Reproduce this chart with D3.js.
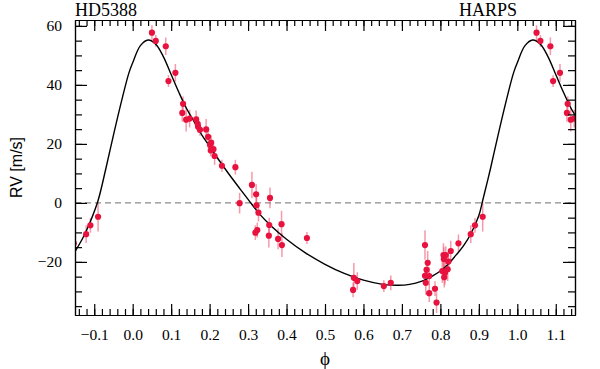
<!DOCTYPE html>
<html>
<head>
<meta charset="utf-8">
<script src="https://cdn.jsdelivr.net/npm/d3@7"></script>
<style>
  body { margin: 0; background: #fff; }
</style>
</head>
<body>
<div id="chart"></div>
<script>
// RV data (phase folded)
const phase = [0.050, 0.060, 0.086, 0.093, 0.111, 0.131, 0.129, 0.139, 0.148, 0.165,
  0.169, 0.170, 0.175, 0.191, 0.196, 0.204, 0.201, 0.210, 0.203, 0.213,
  0.232, 0.267, 0.310, 0.321, 0.278, 0.357, 0.322, 0.327, 0.355, 0.387,
  0.324, 0.319, 0.354, 0.378, 0.388, 0.453, 0.575, 0.584, 0.573, 0.653,
  0.671, 0.760, 0.767, 0.764, 0.760, 0.771, 0.762, 0.771, 0.786, 0.790,
  0.808, 0.814, 0.809, 0.821, 0.827, 0.805, 0.812, 0.819, 0.810, 0.847,
  0.879, 0.890, 0.910];
const rv = [57.7, 54.9, 53.1, 41.3, 44.1, 33.6, 30.5, 28.2, 28.6, 28.3,
  26.8, 25.8, 24.8, 24.9, 22.4, 20.4, 19.6, 18.2, 17.8, 15.9,
  12.6, 12.1, 6.1, 2.9, -0.1, 1.7, -0.8, -3.3, -7.5, -7.2,
  -9.2, -10.1, -11.1, -12.2, -14.3, -11.9, -25.4, -26.5, -29.5, -28.2,
  -27.1, -14.3, -20.3, -22.7, -24.7, -24.8, -27.1, -30.6, -29.1, -33.8,
  -17.7, -17.7, -19.0, -19.9, -16.3, -23.1, -23.7, -22.5, -25.2, -13.7,
  -10.6, -7.6, -4.7];
const rvErr = [2.5, 2, 3, 2, 3, 2.5, 3, 4, 3, 3,
  2.5, 2, 2, 3.5, 2.5, 2.5, 2, 2, 2, 3,
  2, 2.5, 4.5, 3.5, 3.5, 3.5, 2.5, 3, 2.5, 4.5,
  2.5, 2.5, 4, 3.5, 4, 2, 5, 3, 2.5, 2,
  2.5, 5, 4, 3, 3, 3, 4, 3, 2.5, 3.5,
  4, 3, 4, 3, 3.5, 4, 4, 4, 3.5, 3,
  3, 2.5, 5];

// Keplerian model curve
const modelPhase = [-0.15, -0.13, -0.11, -0.09, -0.07, -0.05, -0.03, -0.01, 0.00, 0.02,
  0.04, 0.06, 0.08, 0.10, 0.12, 0.14, 0.16, 0.18, 0.20, 0.22,
  0.25, 0.28, 0.30, 0.33, 0.36, 0.40, 0.45, 0.50, 0.55, 0.60,
  0.65, 0.69, 0.72, 0.75, 0.78, 0.80, 0.82, 0.84, 0.86, 0.88,
  0.90, 0.91, 0.93, 0.95, 0.97, 0.99, 1.00, 1.02, 1.04, 1.06,
  1.08, 1.10, 1.12, 1.14, 1.15];
const modelRv = [-16.5, -12, -6.3, 0.8, 11.5, 23, 34, 44, 47.5, 53.3,
  55.2, 53.8, 49.5, 43.5, 37.5, 32, 27.5, 23, 19.2, 15.3,
  9.8, 4.6, 1.2, -3.8, -7.8, -12.3, -17, -20.8, -23.9, -26.2,
  -27.6, -27.9, -27.6, -26.6, -24.7, -23.1, -20.8, -17.8, -14.6, -10.3,
  -4.3, 0.8, 11.5, 23, 34, 44, 47.5, 53.3, 55.2, 53.8,
  49.5, 43.5, 37.5, 32, 29.8];

const xMajor = [-0.1, 0.0, 0.1, 0.2, 0.3, 0.4, 0.5, 0.6, 0.7, 0.8, 0.9, 1.0, 1.1];
const yMajor = [-20, 0, 20, 40, 60];

const serif = "'Liberation Serif', 'Times New Roman', serif";

const W = 600, H = 369;
const margin = {top: 20, right: 25, bottom: 54, left: 75},
    width = W - margin.left - margin.right,
    height = H - margin.top - margin.bottom;

const svg = d3.select("#chart").append("svg")
    .attr("width", W).attr("height", H);
const g = svg.append("g")
    .attr("transform", `translate(${margin.left},${margin.top})`);

const x = d3.scaleLinear().domain([-0.15, 1.15]).range([0, width]);
const y = d3.scaleLinear().domain([-38, 62]).range([height, 0]);

// minor ticks
const xMinor = d3.range(-7, 58).map(i => +(i * 0.02).toFixed(2));
const yMinor = d3.range(-7, 13).map(i => i * 5);

g.append("defs").append("clipPath").attr("id", "clip")
  .append("rect").attr("width", width).attr("height", height);

// zero line
g.append("line")
    .attr("x1", 0).attr("x2", width)
    .attr("y1", y(0)).attr("y2", y(0))
    .attr("stroke", "#6e6e6e").attr("stroke-width", 1)
    .attr("stroke-dasharray", "6,4");

const plot = g.append("g").attr("clip-path", "url(#clip)");

// points, wrapped one period each side
const pts = [];
phase.forEach((p, i) => {
  [-1, 0, 1].forEach(k => {
    const ph = p + k;
    if (ph > -0.17 && ph < 1.17) pts.push({ph: ph, v: rv[i], e: rvErr[i]});
  });
});

plot.selectAll("line.err").data(pts).enter().append("line")
    .attr("class", "err")
    .attr("x1", d => x(d.ph)).attr("x2", d => x(d.ph))
    .attr("y1", d => y(d.v - d.e)).attr("y2", d => y(d.v + d.e))
    .attr("stroke", "rgba(238,70,100,0.55)").attr("stroke-width", 1.5);

const model = modelPhase.map((p, i) => [p, modelRv[i]]);
plot.append("path").datum(model)
    .attr("fill", "none").attr("stroke", "#000").attr("stroke-width", 1.4)
    .attr("d", d3.line().x(d => x(d[0])).y(d => y(d[1])).curve(d3.curveCatmullRom.alpha(0.5)));

plot.selectAll("circle.pt").data(pts).enter().append("circle")
    .attr("class", "pt")
    .attr("cx", d => x(d.ph)).attr("cy", d => y(d.v))
    .attr("r", 3.1)
    .attr("fill", "#e8123f");

// axes, ticks pointing inwards
function styleAxis(sel) {
  sel.attr("font-family", serif).attr("font-size", 15.5);
  sel.selectAll("path, line").attr("stroke", "#000").attr("stroke-width", 1.2);
  sel.selectAll("text").attr("fill", "#000")
     .attr("font-family", serif).attr("font-size", 15.5);
}

g.append("g").attr("transform", `translate(0,${height})`)
  .call(d3.axisBottom(x).tickValues(xMinor).tickSize(-6).tickSizeOuter(0).tickFormat(""))
  .call(styleAxis);
g.append("g").attr("transform", `translate(0,${height})`)
  .call(d3.axisBottom(x).tickValues(xMajor).tickSize(-11).tickSizeOuter(0).tickPadding(14).tickFormat(d3.format(".1f")))
  .call(styleAxis);
g.append("g")
  .call(d3.axisTop(x).tickValues(xMinor).tickSize(-6).tickSizeOuter(0).tickFormat(""))
  .call(styleAxis);
g.append("g")
  .call(d3.axisTop(x).tickValues(xMajor).tickSize(-11).tickSizeOuter(0).tickFormat(""))
  .call(styleAxis);

g.append("g")
  .call(d3.axisLeft(y).tickValues(yMinor).tickSize(-7).tickSizeOuter(0).tickFormat(""))
  .call(styleAxis);
g.append("g")
  .call(d3.axisLeft(y).tickValues(yMajor).tickSize(-12).tickSizeOuter(0).tickPadding(13).tickFormat(d3.format("d")))
  .call(styleAxis);
g.append("g").attr("transform", `translate(${width},0)`)
  .call(d3.axisRight(y).tickValues(yMinor).tickSize(-7).tickSizeOuter(0).tickFormat(""))
  .call(styleAxis);
g.append("g").attr("transform", `translate(${width},0)`)
  .call(d3.axisRight(y).tickValues(yMajor).tickSize(-12).tickSizeOuter(0).tickFormat(""))
  .call(styleAxis);

// labels
svg.append("text")
    .attr("x", 75).attr("y", 16)
    .attr("font-family", serif).attr("font-size", 18)
    .text("HD5388");
svg.append("text")
    .attr("x", 459).attr("y", 16)
    .attr("font-family", serif).attr("font-size", 18)
    .text("HARPS");
svg.append("text")
    .attr("x", margin.left + width / 2).attr("y", 365)
    .attr("text-anchor", "middle")
    .attr("font-family", serif).attr("font-size", 19)
    .text("\u03d5");
svg.append("text")
    .attr("transform", `translate(22,${margin.top + height / 2}) rotate(-90)`)
    .attr("text-anchor", "middle")
    .attr("font-family", "'Liberation Sans', Arial, sans-serif")
    .attr("font-size", 16)
    .text("RV [m/s]");
</script>
</body>
</html>
